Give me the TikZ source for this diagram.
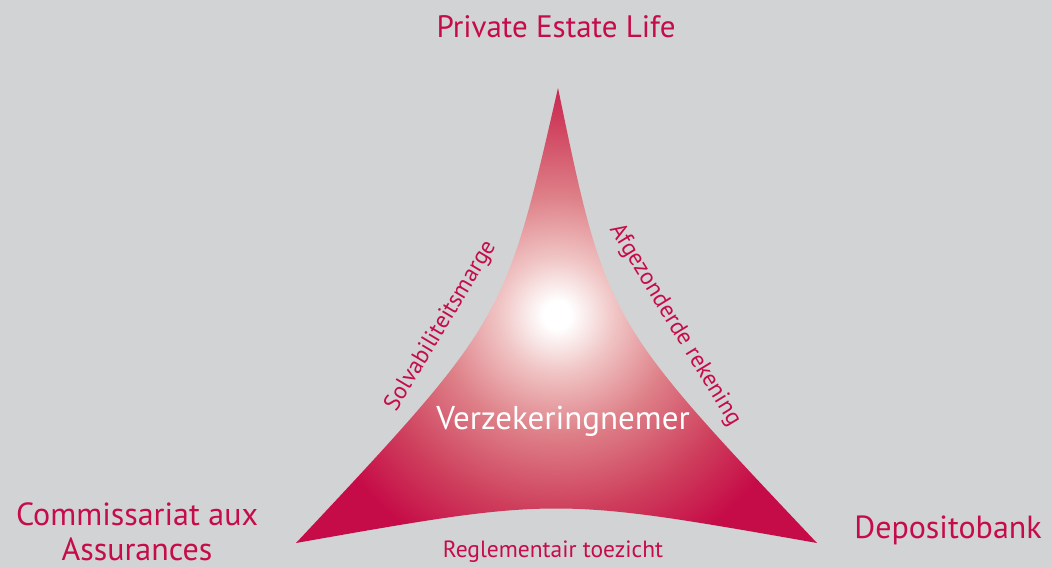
\documentclass[tikz,border=0pt]{standalone}
\usepackage{fontspec}
\setmainfont{PT Sans}
\definecolor{crimson}{RGB}{198,12,72}
\definecolor{backgr}{RGB}{210,211,213}
\pgfdeclareradialshading{glow}{\pgfpoint{0bp}{0bp}}{%
  color(0bp)=(white); color(1bp)=(white);
  color(4.2bp)=(rgb,255:red,240;green,195;blue,195);
  color(8.5bp)=(rgb,255:red,222;green,128;blue,136);
  color(14bp)=(rgb,255:red,206;green,62;blue,92);
  color(18.5bp)=(crimson); color(50bp)=(crimson)}
\tikzset{
  corner/.style={text=crimson, font=\fontsize{32}{35}\selectfont, align=center},
  edgelabel/.style={text=crimson, font=\fontsize{23.5}{25}\selectfont}
}
\begin{document}
\begin{tikzpicture}[x=1pt,y=-1pt]
\def\sail{(558,88) .. controls (505,320) .. (296,543) .. controls (556,497) .. (817,543) .. controls (606,320) .. (558,88) -- cycle}

\useasboundingbox (0,0) rectangle (1052,567);
\fill[backgr] (0,0) rectangle (1052,567);

        \begin{scope}
            \clip \sail;
        \shade[shading=glow] (557,315) circle (350);
        \end{scope}

\node[corner, font=\fontsize{31}{34}\selectfont] (top) at (556,27) {Private Estate Life};
\node[corner] (left) at (137,532) {Commissariat aux\\Assurances};
\node[corner] (right) at (948,530) {Depositobank};
\node[text=white, font=\fontsize{33}{35}\selectfont] (centre) at (563,421) {Verzekeringnemer};
\node[edgelabel, rotate=59] (solv) at (441,326) {Solvabiliteitsmarge};
\node[edgelabel, rotate=-58.5] (afg) at (675,325) {Afgezonderde rekening};
\node[edgelabel] (regl) at (553,552) {Reglementair toezicht};
\end{tikzpicture}
\end{document}
